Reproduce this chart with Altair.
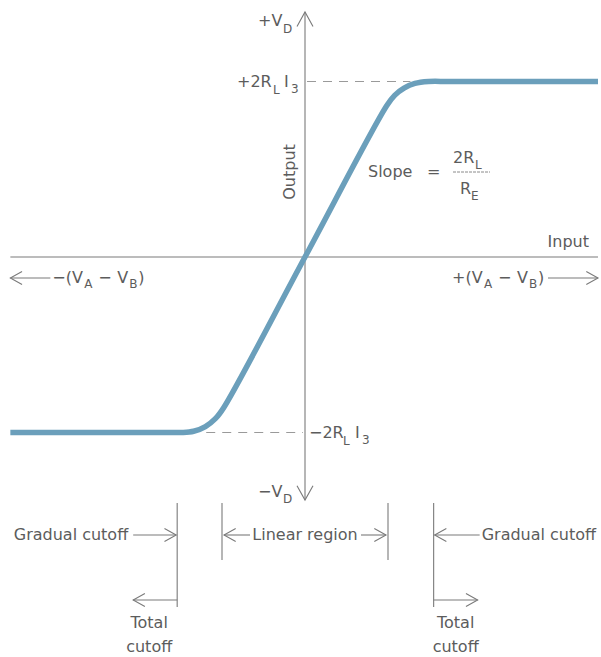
import altair as alt
import pandas as pd

# Canvas and the mapping of the diagram's coordinate frame onto it
W, H = 601, 657
X0, Y0 = 305, 257          # where the input and output axes cross
PX_X, PX_Y = 83.0, 175.5   # pixels per input unit / per output unit

X_DOMAIN = [-X0 / PX_X, (W - X0) / PX_X]
Y_DOMAIN = [-(H - Y0) / PX_Y, Y0 / PX_Y]


def ux(dx):
    """Horizontal pixel offset -> input units."""
    return dx / PX_X


def uy(dy):
    """Downward pixel offset -> output units."""
    return -dy / PX_Y


# Differential-amplifier transfer characteristic
# input in units of the linear-region half width, output in units of 2 R_L I_3
input_v = [-3.55, -1.75, -1.494, -1.342, -1.200, -1.080, -0.978, 0.0,
           0.984, 1.080, 1.193, 1.324, 1.489, 1.75, 3.53]
output_v = [-1.0, -1.0, -1.0, -0.993, -0.966, -0.921, -0.857, 0.0,
            0.862, 0.921, 0.962, 0.989, 1.0, 1.0, 1.0]

SAT = 1.0                   # +/- 2 R_L I_3
GRADUAL = [-1.0, 1.0]       # edges of the linear region
TOTAL = [-1.54, 1.55]       # total cutoff
AXIS_X = [-3.55, 3.53]
AXIS_Y = [-1.385, 1.396]
LEFT, RIGHT = AXIS_X
BOT, TOP = AXIS_Y

TEXT = "#5c5c5c"
LINE = "#7a7a7a"
CURVE = "#6b9fbb"
FONT = "DejaVu Sans"
F, S = 16, 12

xs = alt.Scale(domain=X_DOMAIN, nice=False, zero=False)
ys = alt.Scale(domain=Y_DOMAIN, nice=False, zero=False)

# ---- straight strokes -------------------------------------------------------
R1 = uy(278)   # row of the region arrows
R2 = uy(343)   # row of the total-cutoff arrows
IN_Y = uy(21)  # row of the input-direction arrows

solid = [
    (LEFT, 0, RIGHT, 0),
    (0, BOT, 0, TOP),
    (LEFT, IN_Y, LEFT + ux(40), IN_Y),
    (RIGHT - ux(50), IN_Y, RIGHT, IN_Y),
    (TOTAL[0], uy(246), TOTAL[0], uy(350)),
    (GRADUAL[0], uy(246), GRADUAL[0], uy(303)),
    (GRADUAL[1], uy(246), GRADUAL[1], uy(303)),
    (TOTAL[1], uy(246), TOTAL[1], uy(350)),
    (TOTAL[0] - ux(44), R1, TOTAL[0] - ux(1), R1),
    (GRADUAL[0] + ux(2), R1, GRADUAL[0] + ux(28), R1),
    (GRADUAL[1] - ux(27), R1, GRADUAL[1] - ux(2), R1),
    (TOTAL[1] + ux(1), R1, TOTAL[1] + ux(46), R1),
    (TOTAL[0] - ux(44), R2, TOTAL[0], R2),
    (TOTAL[1], R2, TOTAL[1] + ux(44), R2),
]
dashed = [
    (ux(2), SAT, 1.27, SAT),
    (-1.19, -SAT, ux(-2), -SAT),
]
fraction = [(ux(148), uy(-85), ux(185), uy(-85))]


def seg_df(rows):
    return pd.DataFrame(rows, columns=["x", "y", "x2", "y2"])


def rules(rows, **kw):
    return alt.Chart(seg_df(rows)).mark_rule(**kw).encode(
        x=alt.X("x:Q", scale=xs, axis=None),
        y=alt.Y("y:Q", scale=ys, axis=None),
        x2="x2:Q",
        y2="y2:Q",
    )


solid_layer = rules(solid, color=LINE, strokeWidth=1.1)
dashed_layer = rules(dashed, color="#9a9a9a", strokeWidth=1, strokeDash=[9, 7])
frac_layer = rules(fraction, color="#8a8a8a", strokeWidth=1, strokeDash=[3, 1])

# ---- open arrowheads --------------------------------------------------------
CHEVRON = "M-1,1.8L0,0L1,1.8"
heads = pd.DataFrame(
    [
        (0, TOP, 0, 256),
        (0, BOT, 180, 256),
        (LEFT, IN_Y, 270, 169),
        (RIGHT, IN_Y, 90, 169),
        (TOTAL[0] - ux(1), R1, 90, 169),
        (GRADUAL[0] + ux(2), R1, 270, 169),
        (GRADUAL[1] - ux(2), R1, 90, 169),
        (TOTAL[1] + ux(1), R1, 270, 169),
        (TOTAL[0] - ux(44), R2, 270, 169),
        (TOTAL[1] + ux(44), R2, 90, 169),
    ],
    columns=["x", "y", "angle", "size"],
)
head_layer = alt.Chart(heads).mark_point(
    shape=CHEVRON, filled=False, color=LINE, strokeWidth=1.1, opacity=1
).encode(
    x=alt.X("x:Q", scale=xs, axis=None),
    y=alt.Y("y:Q", scale=ys, axis=None),
    angle=alt.Angle("angle:Q", scale=None),
    size=alt.Size("size:Q", scale=None),
)

# ---- transfer curve ---------------------------------------------------------
curve = pd.DataFrame({"vin": input_v, "vout": output_v})
curve_layer = alt.Chart(curve).mark_line(
    color=CURVE, strokeWidth=5.5, interpolate="catmull-rom", strokeCap="butt"
).encode(
    x=alt.X("vin:Q", scale=xs, axis=None),
    y=alt.Y("vout:Q", scale=ys, axis=None),
    order="vin:Q",
)

# ---- text fragments (anchor in diagram units, offset in pixels) ------------
labels = [
    # text, anchor x, anchor y, dx, dy, size, align
    ("+V", 0, TOP, -47, 9, F, "left"),
    ("D", 0, TOP, -22, 17, S, "left"),
    ("+2R", 0, SAT, -68, 0, F, "left"),
    ("L", 0, SAT, -32, 8, S, "left"),
    ("I", 0, SAT, -21, 0, F, "left"),
    ("3", 0, SAT, -14, 7, S, "left"),
    ("\u22122R", 0, -SAT, 4, 0, F, "left"),
    ("L", 0, -SAT, 38, 8, S, "left"),
    ("I", 0, -SAT, 50, 0, F, "left"),
    ("3", 0, -SAT, 57, 7, S, "left"),
    ("\u2212V", 0, BOT, -47, -8, F, "left"),
    ("D", 0, BOT, -22, -1, S, "left"),
    ("Slope", 0, 0, 63, -85, F, "left"),
    ("=", 0, 0, 122, -85, F, "left"),
    ("2R", 0, 0, 148, -99, F, "left"),
    ("L", 0, 0, 170, -92, S, "left"),
    ("R", 0, 0, 155, -68, F, "left"),
    ("E", 0, 0, 166, -61, S, "left"),
    ("Input", RIGHT, 0, -9, -15, F, "right"),
    ("\u2212(V", LEFT, 0, 42, 21, F, "left"),
    ("A", LEFT, 0, 74, 27, S, "left"),
    ("\u2212", LEFT, 0, 88, 21, F, "left"),
    ("V", LEFT, 0, 107, 21, F, "left"),
    ("B", LEFT, 0, 119, 27, S, "left"),
    (")", LEFT, 0, 128, 21, F, "left"),
    ("+(V", RIGHT, 0, -146, 21, F, "left"),
    ("A", RIGHT, 0, -114, 27, S, "left"),
    ("\u2212", RIGHT, 0, -100, 21, F, "left"),
    ("V", RIGHT, 0, -81, 21, F, "left"),
    ("B", RIGHT, 0, -69, 27, S, "left"),
    (")", RIGHT, 0, -60, 21, F, "left"),
    ("Gradual cutoff", TOTAL[0], 0, -49, 278, F, "right"),
    ("Linear region", 0, 0, 0, 278, F, "center"),
    ("Gradual cutoff", TOTAL[1], 0, 48, 278, F, "left"),
    ("Total", TOTAL[0], 0, -28, 366, F, "center"),
    ("cutoff", TOTAL[0], 0, -28, 390, F, "center"),
    ("Total", TOTAL[1], 0, 22, 366, F, "center"),
    ("cutoff", TOTAL[1], 0, 22, 390, F, "center"),
]
lab = pd.DataFrame(labels, columns=["text", "ax", "ay", "dx", "dy", "size", "align"])
lab["x"] = lab["ax"] + lab["dx"] / PX_X
lab["y"] = lab["ay"] - lab["dy"] / PX_Y


def text_layer(df, align, size, angle=0):
    return alt.Chart(df).mark_text(
        align=align, baseline="middle", font=FONT, fontSize=size,
        color=TEXT, angle=angle,
    ).encode(
        x=alt.X("x:Q", scale=xs, axis=None),
        y=alt.Y("y:Q", scale=ys, axis=None),
        text="text:N",
    )


text_layers = []
for (al, sz), grp in lab.groupby(["align", "size"]):
    text_layers.append(text_layer(grp.reset_index(drop=True), al, int(sz)))

output_label = pd.DataFrame({"text": ["Output"], "x": [ux(-15)], "y": [uy(-85)]})
text_layers.append(text_layer(output_label, "center", F, angle=270))

chart = alt.layer(
    dashed_layer, frac_layer, solid_layer, head_layer, curve_layer, *text_layers
).properties(
    width=W, height=H,
    autosize=alt.AutoSizeParams(type="none"),
    padding=0,
    background="white",
).configure_view(stroke=None)

chart.save("out.html", embed_options={"renderer": "svg", "actions": False})
